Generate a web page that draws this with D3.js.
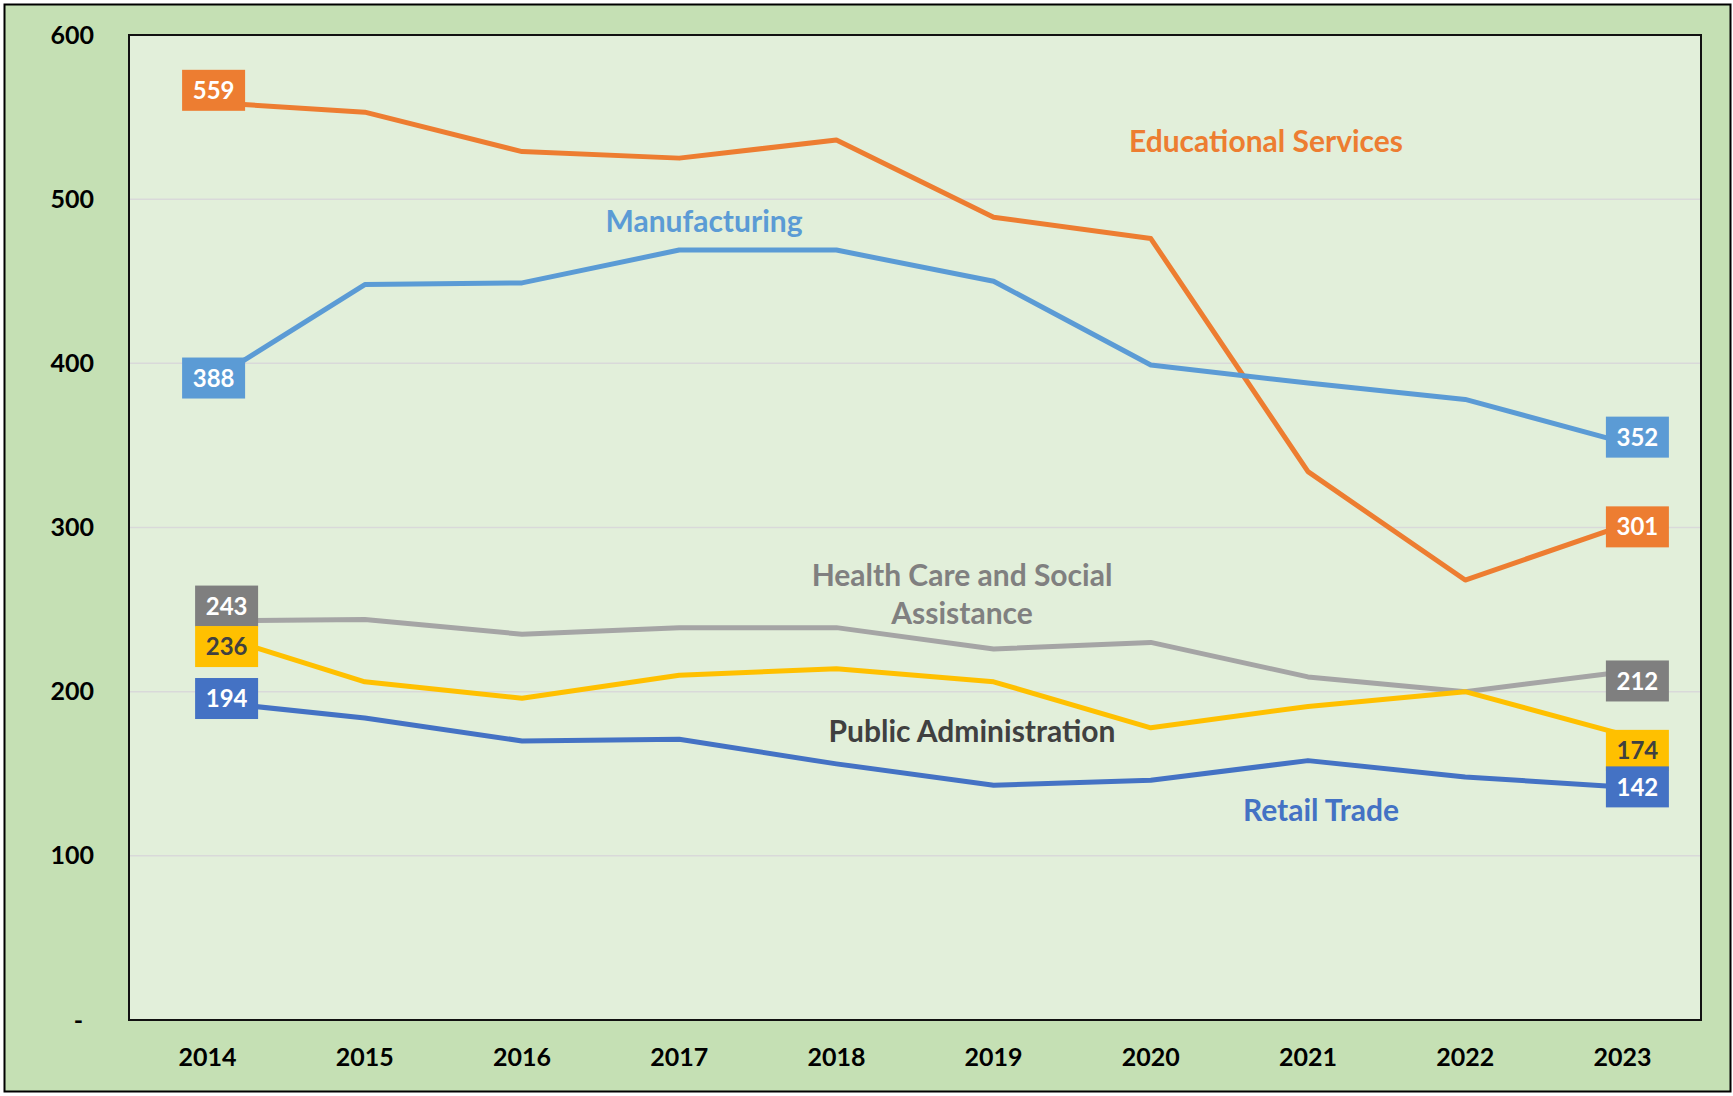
<!DOCTYPE html>
<meta charset="utf-8">
<script src="https://d3js.org/d3.v7.min.js"></script>
<style>
  body { margin: 0; background: #fff; }
  text { font-family: Lato, "Open Sans", sans-serif; font-weight: bold; }
</style>
<div id="chart"></div>
<script>
// data
var years = ["2014", "2015", "2016", "2017", "2018", "2019", "2020", "2021", "2022", "2023"];
var yTicks = [0, 100, 200, 300, 400, 500, 600];
var educational = [559, 553, 529, 525, 536, 489, 476, 334, 268, 301];
var manufacturing = [388, 448, 449, 469, 469, 450, 399, 388, 378, 352];
var healthCare = [243, 244, 235, 239, 239, 226, 230, 209, 200, 212];
var publicAdmin = [236, 206, 196, 210, 214, 206, 178, 191, 200, 174];
var retail = [194, 184, 170, 171, 156, 143, 146, 158, 148, 142];

// styles per series (drawing order)
var series = [
  {name: "Educational Services", values: educational, line: "#ED7D31", box: "#ED7D31", txt: "#fff",
   first: [6, -12], last: [15, 1]},
  {name: "Manufacturing", values: manufacturing, line: "#5B9BD5", box: "#5B9BD5", txt: "#fff",
   first: [6, -5], last: [15, -5]},
  {name: "Health Care and Social Assistance", values: healthCare, line: "#A5A5A5", box: "#7F7F7F", txt: "#fff",
   first: [19, -15], last: [15, 9]},
  {name: "Public Administration", values: publicAdmin, line: "#FFC000", box: "#FFC000", txt: "#404040",
   first: [19, 14], last: [15, 16]},
  {name: "Retail Trade", values: retail, line: "#4472C4", box: "#4472C4", txt: "#fff",
   first: [19, -3], last: [15, 0]}
];

// series name annotations (pixel positions)
var notes = [
  {lines: ["Educational Services"], x: 1266, y: 152, color: "#ED7D31"},
  {lines: ["Manufacturing"], x: 704, y: 232, color: "#5B9BD5"},
  {lines: ["Health Care and Social", "Assistance"], x: 962, y: 586, color: "#808080"},
  {lines: ["Public Administration"], x: 972, y: 742, color: "#404040"},
  {lines: ["Retail Trade"], x: 1321, y: 821, color: "#4472C4"}
];

var W = 1733, H = 1096;
var margin = {top: 35, right: 32, bottom: 76, left: 129},
    width = W - margin.left - margin.right,
    height = H - margin.top - margin.bottom;

var root = d3.select("#chart").append("svg")
  .attr("width", W)
  .attr("height", H);

// outer frame
root.append("rect")
  .attr("x", 4.5).attr("y", 4.5)
  .attr("width", 1726).attr("height", 1087)
  .attr("fill", "#C5E0B4")
  .attr("stroke", "#000")
  .attr("stroke-width", 2);

var svg = root.append("g")
  .attr("transform", "translate(" + margin.left + "," + margin.top + ")");

svg.append("rect")
  .attr("width", width).attr("height", height)
  .attr("fill", "#E2EFDA");

var x = d3.scaleBand()
  .domain(years)
  .range([0, width]);

var y = d3.scaleLinear()
  .domain([0, 600])
  .range([height, 0]);

// gridlines
svg.append("g")
  .selectAll("line")
  .data(yTicks.filter(function(d) { return d > 0 && d < 600; }))
  .enter().append("line")
    .attr("x1", 0).attr("x2", width)
    .attr("y1", function(d) { return y(d); })
    .attr("y2", function(d) { return y(d); })
    .attr("stroke", "#D9D9D9")
    .attr("stroke-width", 1.5);

// Y axis
var yAxis = svg.append("g")
  .call(d3.axisLeft(y).tickValues(yTicks).tickSize(0).tickPadding(35)
    .tickFormat(function(d) { return d === 0 ? "-" : d; }));
yAxis.select(".domain").remove();
yAxis.selectAll("text")
  .attr("font-size", 25)
  .attr("fill", "#000")
  .style("font-family", "Lato")
  .attr("dx", function(d) { return d === 0 ? -11 : 0; });

// X axis
var xAxis = svg.append("g")
  .attr("transform", "translate(0," + height + ")")
  .call(d3.axisBottom(x).tickSize(0).tickPadding(28));
xAxis.select(".domain").remove();
xAxis.selectAll("text")
  .attr("font-size", 25)
  .attr("fill", "#000")
  .style("font-family", "Lato");

// plot border
svg.append("rect")
  .attr("width", width).attr("height", height)
  .attr("fill", "none")
  .attr("stroke", "#111")
  .attr("stroke-width", 2);

var cx = function(i) { return x(years[i]) + x.bandwidth() / 2; };

var line = d3.line()
  .x(function(d, i) { return cx(i); })
  .y(function(d) { return y(d); });

svg.selectAll(".series")
  .data(series)
  .enter().append("path")
    .attr("class", "series")
    .attr("d", function(s) { return line(s.values); })
    .attr("fill", "none")
    .attr("stroke", function(s) { return s.line; })
    .attr("stroke-width", 5)
    .attr("stroke-linejoin", "round");

// series name annotations
notes.forEach(function(n) {
  var t = root.append("text")
    .attr("x", n.x).attr("y", n.y)
    .attr("text-anchor", "middle")
    .attr("font-size", 30)
    .attr("fill", n.color);
  n.lines.forEach(function(l, k) {
    t.append("tspan").attr("x", n.x).attr("dy", k === 0 ? 0 : 38).text(l);
  });
});

// data label boxes at first and last point
var bw = 63, bh = 41;
var labels = [];
series.forEach(function(s) {
  labels.push({s: s, i: 0, off: s.first});
  labels.push({s: s, i: years.length - 1, off: s.last});
});
var lab = svg.selectAll(".lab")
  .data(labels)
  .enter().append("g")
    .attr("class", "lab")
    .attr("transform", function(d) {
      return "translate(" + (cx(d.i) + d.off[0]) + "," + (y(d.s.values[d.i]) + d.off[1]) + ")";
    });
lab.append("rect")
  .attr("x", -bw / 2).attr("y", -bh / 2)
  .attr("width", bw).attr("height", bh)
  .attr("fill", function(d) { return d.s.box; });
lab.append("text")
  .attr("text-anchor", "middle")
  .attr("dy", "0.36em")
  .attr("font-size", 24)
  .attr("fill", function(d) { return d.s.txt; })
  .text(function(d) { return d.s.values[d.i]; });
</script>
